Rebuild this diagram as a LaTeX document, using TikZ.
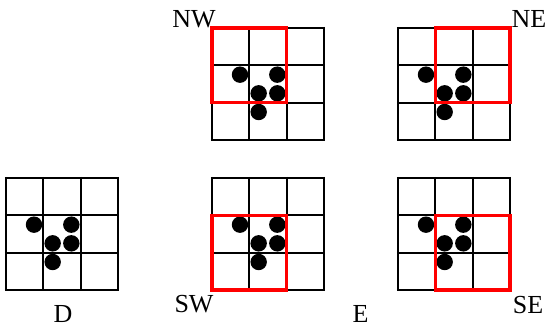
\documentclass[tikz,border=0pt]{standalone}
\usepackage{fontspec}
\setmainfont{Liberation Serif}
\begin{document}
\begin{tikzpicture}[x=1pt,y=-1pt,
  gridline/.style={line width=2pt,black},
  redbox/.style={line width=3.2pt,red},
  lab/.style={font=\fontsize{26}{30}\selectfont,inner sep=0pt}]
\useasboundingbox (0,0) rectangle (550,329);
\newcommand\cellgrid[2]{%
  \begin{scope}[shift={(#1,#2)},x=37.33pt,y=-37.33pt]
    \foreach \i in {0,...,3} {
      \draw[gridline] (\i,-0.027) -- (\i,3.027);
      \draw[gridline] (-0.027,\i) -- (3.027,\i);
    }
    \foreach \p in {(0.75,1.25),(1.75,1.25),(1.25,1.75),(1.75,1.75),(1.25,2.25)}
      \fill \p circle (0.22);
  \end{scope}}
\cellgrid{6}{178}
\cellgrid{212}{28}
\cellgrid{398}{28}
\cellgrid{212}{178}
\cellgrid{398}{178}
\draw[redbox] (212,28) rectangle (286.7,102.7);
\draw[redbox] (435.3,28) rectangle (510,102.7);
\draw[redbox] (212,215.3) rectangle (286.7,290);
\draw[redbox] (435.3,215.3) rectangle (510,290);
\node[lab] (nw) at (194,19.5) {NW};
\node[lab] (ne) at (529,19) {NE};
\node[lab] (sw) at (194,304) {SW};
\node[lab] (se) at (528,305) {SE};
\node[lab] (d) at (63,314) {D};
\node[lab] (e) at (360.5,314) {E};
\end{tikzpicture}
\end{document}
